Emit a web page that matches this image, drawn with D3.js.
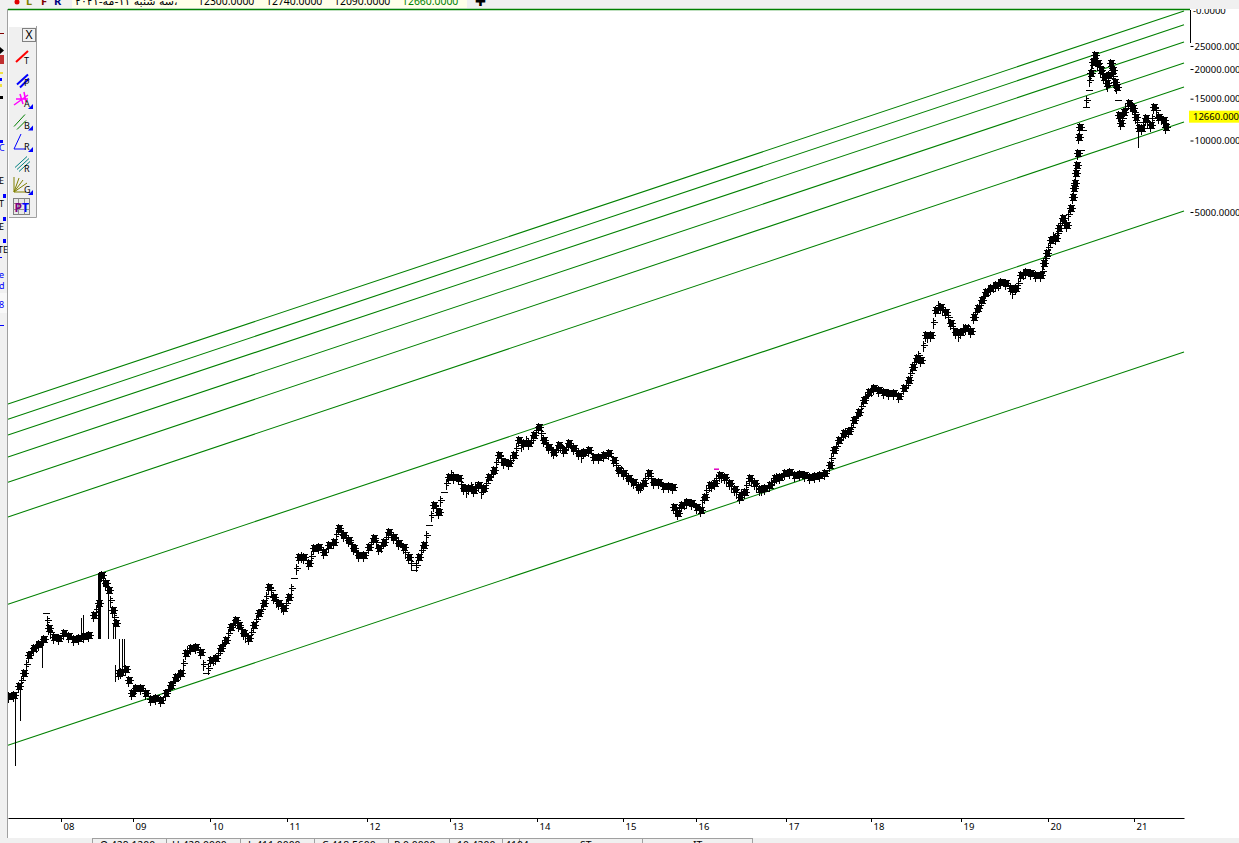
<!DOCTYPE html>
<html>
<head>
<meta charset="utf-8">
<title>chart</title>
<script src="https://d3js.org/d3.v7.min.js"></script>
<style>
    body { margin: 0; background: #fff; overflow: hidden; }
    text { font-family: "Noto Sans", sans-serif; font-size: 9px; fill: #000; }
</style>
</head>
<body>
<svg id="chart"></svg>
<script>
// trading bar number of each sampled bar
const barIndex = [0,20,40,60,80,100,120,140,148,160,180,200,220,240,260,280,300,320,340,360,372,388,400,416,428,440,448,468,480,492,
    508,528,548,568,588,608,628,648,668,688,708,728,748,768,788,808,828,848,868,888,908,920,940,960,980,1000,1020,1040,1060,1080,
    1100,1120,1140,1160,1180,1200,1220,1240,1260,1280,1300,1320,1340,1360,1380,1400,1420,1440,1460,1480,1500,1520,1540,1560,1580,1600,1620,1640,1660,1680,
    1700,1720,1740,1760,1780,1800,1820,1840,1860,1880,1900,1920,1940,1960,1980,2000,2020,2040,2060,2080,2100,2120,2140,2160,2180,2200,2220,2240,2260,2280,
    2300,2320,2340,2360,2380,2400,2420,2440,2460,2480,2500,2520,2540,2560,2580,2600,2620,2640,2656,2660,2676,2692,2712,2732,2752,2768,2784,2804,2824,2844,
    2864,2884,2904,2924,2944,2964,2984,3004,3024,3044,3064,3084,3104,3124,3144,3164,3184,3204,3224,3244,3264,3284,3300,3320,3340,3360,3380,3400,3420,3440,
    3460,3480,3500,3520,3540,3560,3580,3600,3616,3632,3648,3668,3688,3708,3728,3748,3768,3788,3808,3828,3848,3860,3876,3892,3908,3928,3948,3968,3988,4008,
    4028,4048,4068,4088,4108,4128,4140,4152,4168,4188,4200,4216,4232,4248,4256,4260,4264,4268,4272,4276,4280,4284,4288,4296,4308,4320,4328,4336,4344,4356,
    4368,4380,4392,4400,4408,4416,4424,4432,4436,4440,4448,4460,4480,4496,4508,4520,4532,4548,4568,4580,4600,4620,4628];

// close for each of those bars
const closes = [45.7,46.2,50.4,57.1,68,72.8,75.7,79.5,102,88.5,81.1,80.3,84.3,81.9,79.5,80.3,81.9,82.7,100,113,148,137,128,105,92.9,57.1,57.7,59.4,53.4,47.1,
    49.4,49.4,47.1,44.4,44.8,44,47.1,50.9,55,57.1,69.4,72.8,73.5,70,57.1,64.8,66.1,72.8,78.7,89.3,95.6,91.1,84.3,80.3,91.1,102,113,132,120,113,
    108,120,144,176,176,166,192,195,185,198,204,233,218,208,192,180,180,195,212,192,204,224,214,202,195,176,155,176,198,240,
    292,272,331,382,382,379,344,344,338,354,344,382,409,474,442,438,474,548,532,532,575,621,548,512,488,522,497,532,507,483,
    488,497,465,465,474,483,451,409,398,379,365,348,361,398,365,365,351,351,348,286,270,292,300,297,286,278,315,354,361,390,
    382,361,341,315,331,379,361,341,344,354,379,382,398,401,390,394,390,382,386,390,398,430,497,548,586,598,665,718,807,872,
    907,889,872,864,864,839,907,980,1112,1214,1190,1517,1517,1933,1990,1896,1704,1561,1561,1623,1577,1806,1971,2130,2301,2392,2462,2535,2511,2392,
    2392,2715,2795,2768,2715,2715,3050,3359,3810,3884,4280,4716,4406,5196,5783,6310,6624,7300,7888,8859,10350,11400,9120,11070,13840,16320,19240,21410,22910,21200,
    19810,18510,17460,18870,21200,19810,17630,16800,14810,12800,11850,13180,14390,13700,12560,11290,11290,12440,11620,13840,12560,12200,11400];

// second pass of reads, bars in between the ones above
const extraIndex = [50,70,90,110,130,156,168,350,380,408,422,500,638,658,678,698,718,778,798,818,838,858,878,898,930,950,970,990,1010,1030,1050,1070,1090,1110,1130,1150,1170,1210,
    1310,1330,1350,1370,1390,1450,1470,1490,1510,1530,1550,1590,1610,1630,1650,1670,1690,1710,1730,1750,1770,1810,1830,1850,1870,1890,1910,1930,1950,1970,2010,2030,2050,2070,2090,2110,2130,2150,2170,2190,2210,2230,2250,2270,2290,
    2430,2450,2470,2490,2510,2530,2550,2570,2668,2684,2704,2776,2792,2812,2832,2852,2872,2892,2912,2932,2952,2972,2992,3012,3052,3072,
    3292,3310,3330,3348,3370,3390,3410,3430,3450,3590,3608,3624,3640,3658,3678,3698,3718,3738,3758,3778,3798,3818,3838,3868,3884,3900,3918,3938,3958,4018,4038,4058,4134,4146,4160,4178,4194,4208,4224,4240,
    4312,4324,4332,4340,4350,4362,4374,4386,4396,4412,4420,4428,4444,4454,4468,4488,4502,4514,4540,4556,4574,4590,4610,4624];
const extraCloses = [53.4,62.3,70.7,74.2,77.9,95.6,85.1,107,141,116,98.4,48.5,48.9,52.9,56,62.9,71.4,62.3,60,65.4,69.4,75.7,84.3,92.9,87.7,81.9,85.1,96.5,107,121,128,115,110,113,131,158,178,178,
    220,224,214,200,185,204,204,196,214,220,208,185,166,163,189,218,265,283,306,361,394,358,334,351,351,331,361,394,442,460,451,507,522,548,548,603,586,527,497,497,517,512,522,497,470,
    430,409,390,372,358,351,379,379,278,283,297,306,338,354,379,386,372,351,331,328,354,372,351,341,365,382,
    460,517,565,592,621,691,761,839,889,933,1050,1168,1250,1377,1502,1720,2029,1954,1806,1623,1517,1623,1623,1896,2029,2213,2346,2440,2486,2301,2511,2768,2835,3200,3560,3960,4077,4490,4535,4902,
    14810,17980,19810,22250,21830,20600,19240,17980,17100,20220,18690,17100,12440,12440,13700,14200,13180,11960,11960,11960,12440,13430,12440,11850];

// long range bars that stick out of the main band
const spikeIndex = [28,48,136,292,300,360,364,368,400,420,428,428,444,456,464,4520];
const spikeHigh = [46.2,49.9,78.7,97.4,100,151,151,151,132,92.9,92.9,61.7,79.5,79.5,79.5,11290];
const spikeLow = [23.2,35.9,60,80.3,80.3,79.5,79.5,79.5,79.5,79.5,79.5,52.4,57.1,57.7,57.7,9300];

// parallel channel lines, price at first and last bar
const channelStart = [28.4,111.6,260,364,465,575,671,777];
const channelEnd = [1286,5049,11970,16800,21200,26000,30700,35100];

const yearBars = [212,500,808,1116,1436,1768,2116,2460,2752,3112,3452,3812,4160,4504];
const yearLabels = ['08','09','10','11','12','13','14','15','16','17','18','19','20','21'];
const priceTicks = [25000,20000,15000,10000,5000];
const lastPrice = 12660;
const headerValues = ['12300.0000','12740.0000','12090.0000','12660.0000'];
const statusCells = ['O 429.1200','H 429.0000','L 411.0000','C 418.5600','P 0.0000','10.4200','4104','ST','IT'];
const toolLetters = ['T','P','A','B','R','R','G'];

const width = 1239, height = 843;
const svg = d3.select('#chart').attr('width', width).attr('height', height);

const xScale = d3.scaleLinear().domain([0, 4704]).range([8, 1184]);
const yScale = d3.scaleLog().domain([5000, 25000]).range([212, 46]);
const px = v => Math.round(v) + 0.5;

const black = '#000', green = '#008000', panel = '#f0f0f0', edge = '#a0a0a0';

// channel lines
svg.append('g').selectAll('line')
    .data(channelStart)
    .join('line')
    .attr('x1', xScale(0))
    .attr('x2', xScale(4704))
    .attr('y1', d => yScale(d))
    .attr('y2', (d, i) => yScale(channelEnd[i]))
    .attr('stroke', green)
    .attr('stroke-width', 1.05);

// spikes
svg.append('g').selectAll('line')
    .data(spikeIndex)
    .join('line')
    .attr('x1', d => px(xScale(d)))
    .attr('x2', d => px(xScale(d)))
    .attr('y1', (d, i) => yScale(spikeHigh[i]))
    .attr('y2', (d, i) => yScale(spikeLow[i]))
    .attr('stroke', black)
    .attr('shape-rendering', 'crispEdges');

// price bars. a bar far from both neighbours shows up as a bare dash, like the ladder in 2020
const jump = (i, j) => (j < 0 || j >= closes.length) ? 0 : Math.abs(yScale(closes[i]) - yScale(closes[j]));
const isDash = i => jump(i, i - 1) > 13 && jump(i, i + 1) > 13;
const dashGlyph = 'M-3,0H4';
const barGlyph = 'M0,-5V6M-3,-3H4M-4,0H5M-3,3H4M-2,-2H3M-2,-1H3M-2,1H3M-2,2H3';
const plusGlyph = 'M0,-5V6M-3,0H4M-1,-2H2M-1,2H2';

const priceBars = svg.append('g')
    .attr('fill', 'none')
    .attr('stroke', black)
    .attr('shape-rendering', 'crispEdges');

priceBars.selectAll('.bar')
    .data(closes)
    .join('path')
    .attr('class', 'bar')
    .attr('transform', (d, i) => `translate(${px(xScale(barIndex[i]))},${px(yScale(d))})`)
    .attr('d', (d, i) => isDash(i) ? dashGlyph : barGlyph);

priceBars.selectAll('.extra')
    .data(extraCloses)
    .join('path')
    .attr('class', 'extra')
    .attr('transform', (d, i) => `translate(${px(xScale(extraIndex[i]))},${px(yScale(d))})`)
    .attr('d', plusGlyph);

// small drawing marker
svg.append('line')
    .attr('x1', xScale(2824))
    .attr('x2', xScale(2844))
    .attr('y1', yScale(413))
    .attr('y2', yScale(413))
    .attr('stroke', '#e000c0')
    .attr('stroke-width', 1.5);

// x axis
const xAxis = d3.axisBottom(xScale)
    .tickValues(yearBars)
    .tickFormat((d, i) => yearLabels[i])
    .tickSize(4)
    .tickSizeOuter(0);

const xAxisGroup = svg.append('g')
    .attr('transform', 'translate(0, 818)')
    .call(xAxis);
xAxisGroup.select('.domain').attr('stroke', black).attr('stroke-width', 1.2);
xAxisGroup.selectAll('text')
    .attr('text-anchor', 'start')
    .attr('dx', 2)
    .attr('y', 5)
    .style('font-size', '9.5px');

// y axis
const yAxis = d3.axisRight(yScale)
    .tickValues(priceTicks)
    .tickFormat(d => d3.format('.4f')(d))
    .tickSize(3)
    .tickPadding(1);

const yAxisGroup = svg.append('g')
    .attr('transform', 'translate(1190.5, 0)')
    .call(yAxis);
yAxisGroup.select('.domain').remove();
yAxisGroup.selectAll('text').style('font-size', '9.5px');

svg.append('line')
    .attr('x1', 1190.5).attr('x2', 1190.5)
    .attr('y1', 10).attr('y2', 43)
    .attr('stroke', black);
svg.append('text').attr('x', 1193).attr('y', 14).style('font-size', '9.5px').text('-0.0000');

svg.append('rect')
    .attr('x', 1189).attr('y', yScale(lastPrice) - 5.5)
    .attr('width', 50).attr('height', 12)
    .attr('fill', '#ffff00');
svg.append('text')
    .attr('x', 1193).attr('y', yScale(lastPrice) + 4)
    .style('font-size', '9.5px')
    .text(d3.format('.4f')(lastPrice));

// header strip
svg.append('rect').attr('width', width).attr('height', 9).attr('fill', panel);
svg.append('rect').attr('x', 72).attr('width', 395).attr('height', 8).attr('fill', '#ffffe8');
svg.append('line').attr('x1', 8).attr('x2', 1190).attr('y1', 9.5).attr('y2', 9.5).attr('stroke', green).attr('stroke-width', 1.6);
svg.append('circle').attr('cx', 17).attr('cy', 2).attr('r', 2.5).attr('fill', '#e00000');
[['L', 26, '#808000'], ['F', 41, '#800000'], ['R', 54, '#000080']].forEach(d => {
    svg.append('text').attr('x', d[1]).attr('y', 5).style('fill', d[2]).style('font-weight', 'bold').style('font-size', '11px').text(d[0]);
});
svg.append('text')
    .attr('x', 75).attr('y', 5)
    .style('font-family', '"DejaVu Sans"')
    .style('font-size', '11px')
    .text('سه شنبه ۱۱-مه-۲۰۲۱،');
svg.selectAll('.hv')
    .data(headerValues)
    .join('text')
    .attr('class', 'hv')
    .attr('x', (d, i) => 198 + i * 68)
    .attr('y', 5)
    .style('font-size', '10.4px')
    .style('fill', (d, i) => i === 3 ? green : black)
    .text(d => d);
svg.append('text').attr('x', 475).attr('y', 6).style('font-family', '"DejaVu Sans"').style('font-size', '13px').style('font-weight', 'bold').text('✚');

// left edge of the main toolbar, mostly hidden behind the chart
svg.append('rect').attr('y', 9).attr('width', 7).attr('height', 829).attr('fill', panel);
svg.append('line').attr('x1', 7.5).attr('x2', 7.5).attr('y1', 9).attr('y2', 838).attr('stroke', edge);
const sideBits = [[0, 33, 4, 1, '#800000'], [0, 55, 4, 9, '#c03030'], [0, 72, 3, 2, '#f0e040'], [0, 78, 2, 3, '#0000ff'], [0, 84, 2, 3, '#f0e040'], [0, 96, 3, 3, '#000'],
    [0, 140, 3, 3, '#0000ff'], [3, 194, 3, 4, '#0000ff'], [3, 217, 3, 4, '#0000ff'], [3, 239, 3, 4, '#0000ff'], [0, 257, 2, 1, '#0000ff'], [0, 293, 7, 20, '#f8f8f8'], [0, 325, 4, 1, '#0000ff']];
sideBits.forEach(d => {
    svg.append('rect').attr('x', d[0]).attr('y', d[1]).attr('width', d[2]).attr('height', d[3]).attr('fill', d[4]);
});
svg.append('path').attr('d', 'M0,47l4,3.5l-4,3.5z').attr('fill', '#000');
[['C', 151, '#0000ff'], ['E', 184, '#000'], ['T', 207, '#000'], ['E', 230, '#000'], ['TE', 253, '#000'], ['e', 278, '#0000ff'], ['d', 289, '#0000ff'], ['8', 308, '#0000ff']].forEach(d => {
    svg.append('text').attr('x', d[0] === 'TE' ? -2 : -1).attr('y', d[1]).style('fill', d[2]).style('font-size', '9px').text(d[0]);
});

// floating tool palette
const toolY = d3.scaleBand().domain(d3.range(8)).range([46, 218]);
const toolIcons = [
    { color: '#ff0000', w: 2, d: 'M2,16L14,5' },
    { color: '#0000ff', w: 2, d: 'M3,17L14,7M6,20L15,11' },
    { color: '#ff00ff', w: 1.5, d: 'M0,16L14,6M6,5L9,15M10,3L12,13M2,10L14,10' },
    { color: '#008000', w: 1, d: 'M0,16L11,4M3,19L12,10' },
    { color: '#0000ff', w: 1, d: 'M0,17L7,2M0,17H12' },
    { color: '#008080', w: 1, d: 'M1,14L13,3M3,16L15,5M5,18L16,8' },
    { color: '#808000', w: 1, d: 'M0,17V2M0,17H12M0,17L5,3M0,17L9,5M0,17L13,8' }
];
const palette = svg.append('g');
palette.append('rect').attr('x', 9).attr('y', 27).attr('width', 27).attr('height', 190).attr('fill', panel);
palette.append('path').attr('d', 'M36.5,26V217.5H9').attr('fill', 'none').attr('stroke', edge);
palette.append('rect').attr('x', 22.5).attr('y', 28.5).attr('width', 13).attr('height', 13).attr('fill', panel).attr('stroke', '#808080');
palette.append('text').attr('x', 29).attr('y', 39).attr('text-anchor', 'middle').style('font-size', '12px').text('X');

toolLetters.forEach((letter, i) => {
    const g = palette.append('g').attr('transform', `translate(14, ${toolY(i)})`);
    g.append('path').attr('d', toolIcons[i].d).attr('fill', 'none').attr('stroke', toolIcons[i].color).attr('stroke-width', toolIcons[i].w);
    g.append('text').attr('x', 10).attr('y', 18).style('font-size', '9px').text(letter);
    if (i === 2 || i === 3 || i === 4 || i === 6) {
        g.append('path').attr('d', 'M19,20h-5l5,-5z').attr('fill', '#0000ff');
    }
});
const pt = palette.append('g').attr('transform', 'translate(13.5, 198.5)');
pt.append('rect').attr('width', 16).attr('height', 16).attr('fill', '#e8e8e8').attr('stroke', '#808080');
pt.append('path').attr('d', 'M5,0V16M11,0V16M0,5H16M0,11H16').attr('stroke', '#909090');
pt.append('text').attr('x', 1).attr('y', 13).style('fill', '#800080').style('font-weight', 'bold').style('font-size', '12px').text('P');
pt.append('text').attr('x', 8.5).attr('y', 13).style('fill', '#0000ff').style('font-weight', 'bold').style('font-size', '12px').text('T');

// status strip, cut by the bottom of the window
svg.append('rect').attr('y', 838).attr('width', width).attr('height', 5).attr('fill', panel);
const cellEdges = [92, 166, 240, 314, 388, 449, 502, 519, 642, 752];
const cellText = [100, 172, 248, 322, 394, 457, 505, 580, 693];
cellEdges.forEach(x => {
    svg.append('line').attr('x1', x + .5).attr('x2', x + .5).attr('y1', 838).attr('y2', 843).attr('stroke', edge);
});
svg.append('line').attr('x1', 92).attr('x2', 752).attr('y1', 838.5).attr('y2', 838.5).attr('stroke', edge);
statusCells.forEach((d, i) => {
    svg.append('text').attr('x', cellText[i]).attr('y', 849).style('font-size', '10.4px').text(d);
});
</script>
</body>
</html>
